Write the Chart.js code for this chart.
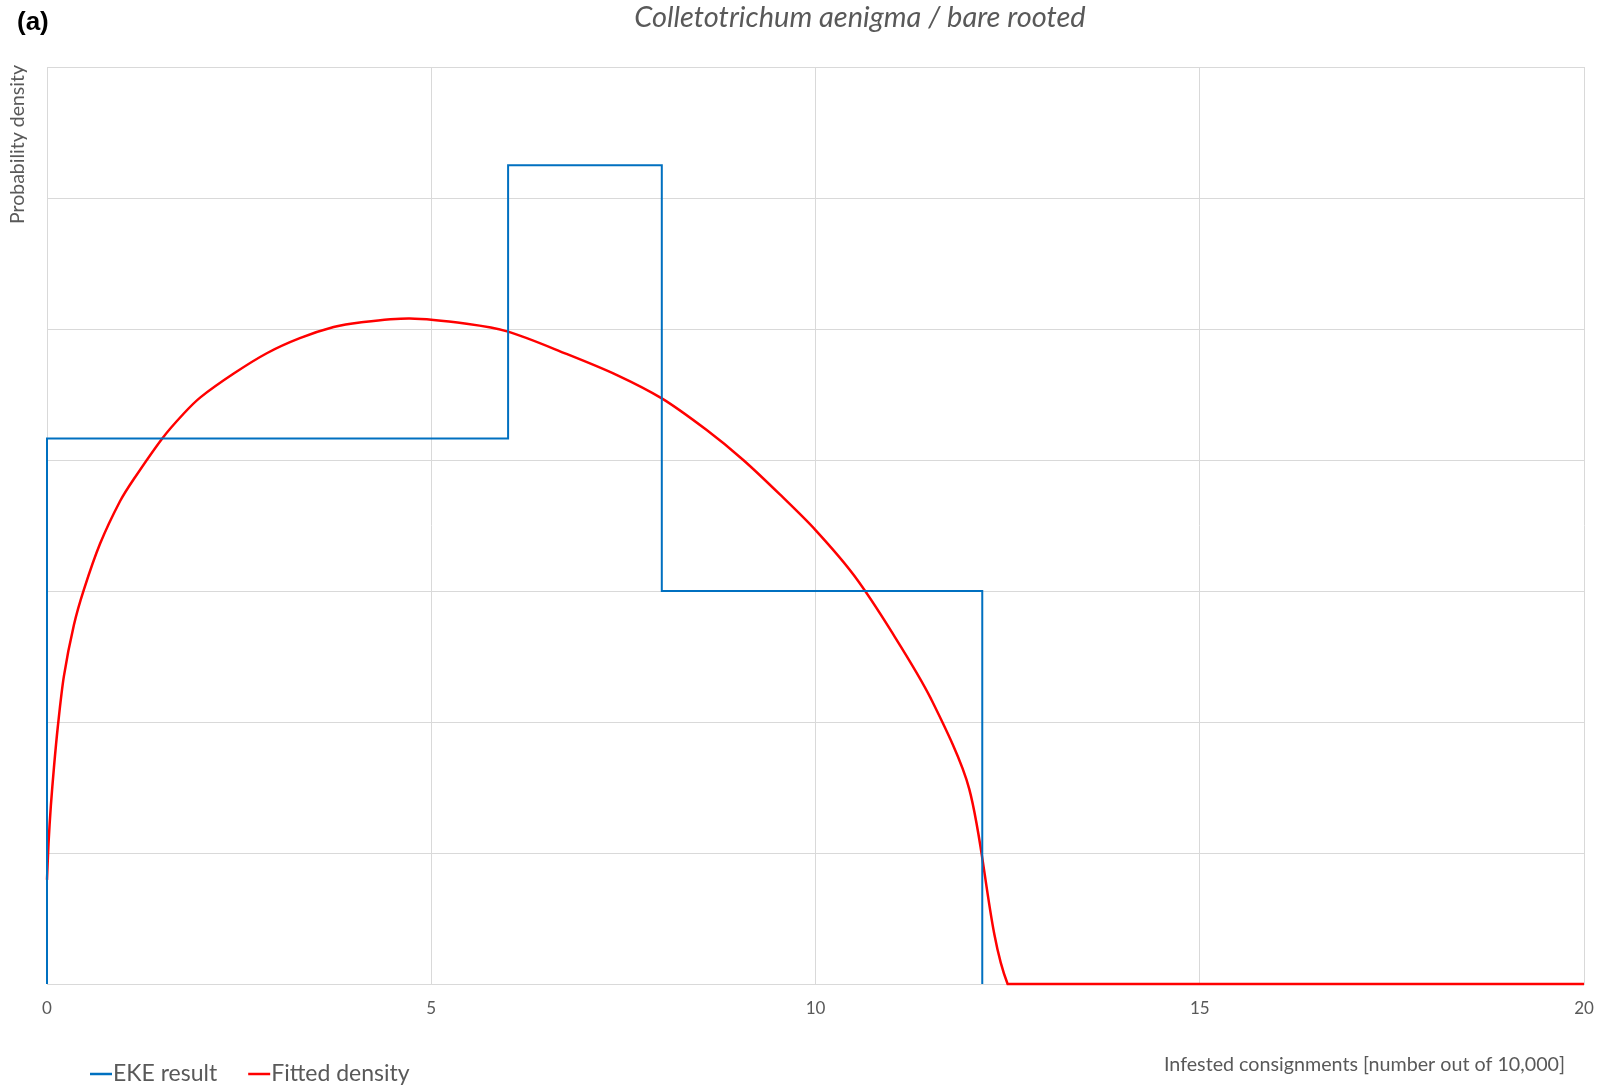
<!DOCTYPE html>
<html>
<head>
<meta charset="utf-8">
<title>Colletotrichum aenigma / bare rooted</title>
<script src="https://cdn.jsdelivr.net/npm/chart.js@4.4.1/dist/chart.umd.min.js"></script>
<style>
  body { margin: 0; background: #fff; }
  #chart { display: block; }
</style>
</head>
<body>
<canvas id="chart" width="1605" height="1090"></canvas>
<script>
// data
const panelLabel = '(a)';
const chartTitle = 'Colletotrichum aenigma / bare rooted';
const xTitle = 'Infested consignments [number out of 10,000]';
const yTitle = 'Probability density';

// EKE result (step histogram)
const ekeX = [0, 0, 6, 6, 8, 8, 12.17, 12.17];
const ekeY = [0, 0.0833, 0.0833, 0.125, 0.125, 0.06, 0.06, 0];

// fitted density
const fitX = [0, 0.02, 0.05, 0.09, 0.14, 0.22, 0.35, 0.48, 0.69, 0.95, 1.13, 1.5, 1.78, 2.0, 2.43, 2.86,
  3.29, 3.73, 4.07, 4.72, 5.46, 6.0, 6.76, 7.41, 8.0, 8.58, 9.06, 9.54, 10.0, 10.5, 11.0, 11.5, 12.0, 12.5, 13, 20];
const fitY = [0.0159, 0.0215, 0.0272, 0.0330, 0.0392, 0.0470, 0.0548, 0.0602, 0.0672, 0.0737, 0.0771, 0.0833, 0.0871, 0.0896, 0.0932, 0.0963,
  0.0986, 0.1003, 0.1010, 0.1016, 0.1008, 0.0996, 0.0962, 0.0930, 0.0894, 0.0846, 0.0800, 0.0747, 0.0693, 0.0624, 0.0536, 0.0436, 0.0298, 0, 0, 0];

const xTicks = [0, 5, 10, 15, 20];

function toPoints(xs, ys) {
  return xs.map((x, i) => ({ x: x, y: ys[i] }));
}

const textColor = '#595959';
const gridColor = '#d9d9d9';

// titles, axis names and legend drawn the way Excel places them
const decorations = {
  id: 'decorations',
  afterDraw(chart) {
    const ctx = chart.ctx;
    const area = chart.chartArea;
    ctx.save();

    ctx.fillStyle = '#000';
    ctx.font = 'bold 26px "Liberation Sans"';
    ctx.textAlign = 'left';
    ctx.textBaseline = 'middle';
    ctx.fillText(panelLabel, 17, 23);

    ctx.fillStyle = textColor;
    ctx.font = 'italic 29px Lato';
    ctx.textAlign = 'center';
    ctx.fillText(chartTitle, 860, 18);

    ctx.save();
    ctx.translate(18, area.top - 2);
    ctx.rotate(-Math.PI / 2);
    ctx.font = '19.5px Lato';
    ctx.textAlign = 'right';
    ctx.textBaseline = 'middle';
    ctx.fillText(yTitle, 0, 0);
    ctx.restore();

    ctx.font = '19.7px Lato';
    ctx.textAlign = 'right';
    ctx.textBaseline = 'middle';
    ctx.fillText(xTitle, 1565, 1065);

    // legend
    ctx.font = '23px Lato';
    ctx.textAlign = 'left';
    let x = 90;
    const y = 1074;
    chart.data.datasets.forEach(ds => {
      ctx.strokeStyle = ds.borderColor;
      ctx.lineWidth = 2.5;
      ctx.beginPath();
      ctx.moveTo(x, y);
      ctx.lineTo(x + 22, y);
      ctx.stroke();
      ctx.fillStyle = textColor;
      ctx.fillText(ds.label, x + 23, y);
      x += 23 + ctx.measureText(ds.label).width + 31;
    });
    ctx.restore();
  }
};

const ctx = document.getElementById('chart');

window.chart = new Chart(ctx, {
  type: 'line',
  data: {
    datasets: [
      {
        label: 'EKE result',
        data: toPoints(ekeX, ekeY),
        borderColor: '#0070c0',
        borderWidth: 2,
        pointRadius: 0,
        tension: 0,
        clip: false
      },
      {
        label: 'Fitted density',
        data: toPoints(fitX, fitY),
        borderColor: '#ff0000',
        borderWidth: 2.5,
        pointRadius: 0,
        tension: 0.3,
        clip: false
      }
    ]
  },
  options: {
    responsive: false,
    animation: false,
    layout: { padding: { left: 47, top: 67, right: 21, bottom: 66 } },
    plugins: {
      legend: { display: false },
      title: { display: false },
      tooltip: { enabled: false }
    },
    scales: {
      x: {
        type: 'linear',
        min: 0,
        max: 20,
        afterBuildTicks: axis => { axis.ticks = xTicks.map(v => ({ value: v })); },
        afterFit: axis => {
          axis.height = 40;
          axis.paddingLeft = 0;
          axis.paddingRight = 0;
        },
        grid: { color: gridColor, lineWidth: 1, drawTicks: false },
        border: { color: gridColor },
        ticks: { color: textColor, font: { family: 'Lato', size: 17 }, padding: 14, maxRotation: 0 }
      },
      y: {
        min: 0,
        max: 0.14,
        afterFit: axis => { axis.width = 0; },
        grid: { color: gridColor, lineWidth: 1, drawTicks: false },
        border: { display: false },
        ticks: { display: false, stepSize: 0.02 }
      }
    }
  },
  plugins: [decorations]
});
</script>
</body>
</html>
